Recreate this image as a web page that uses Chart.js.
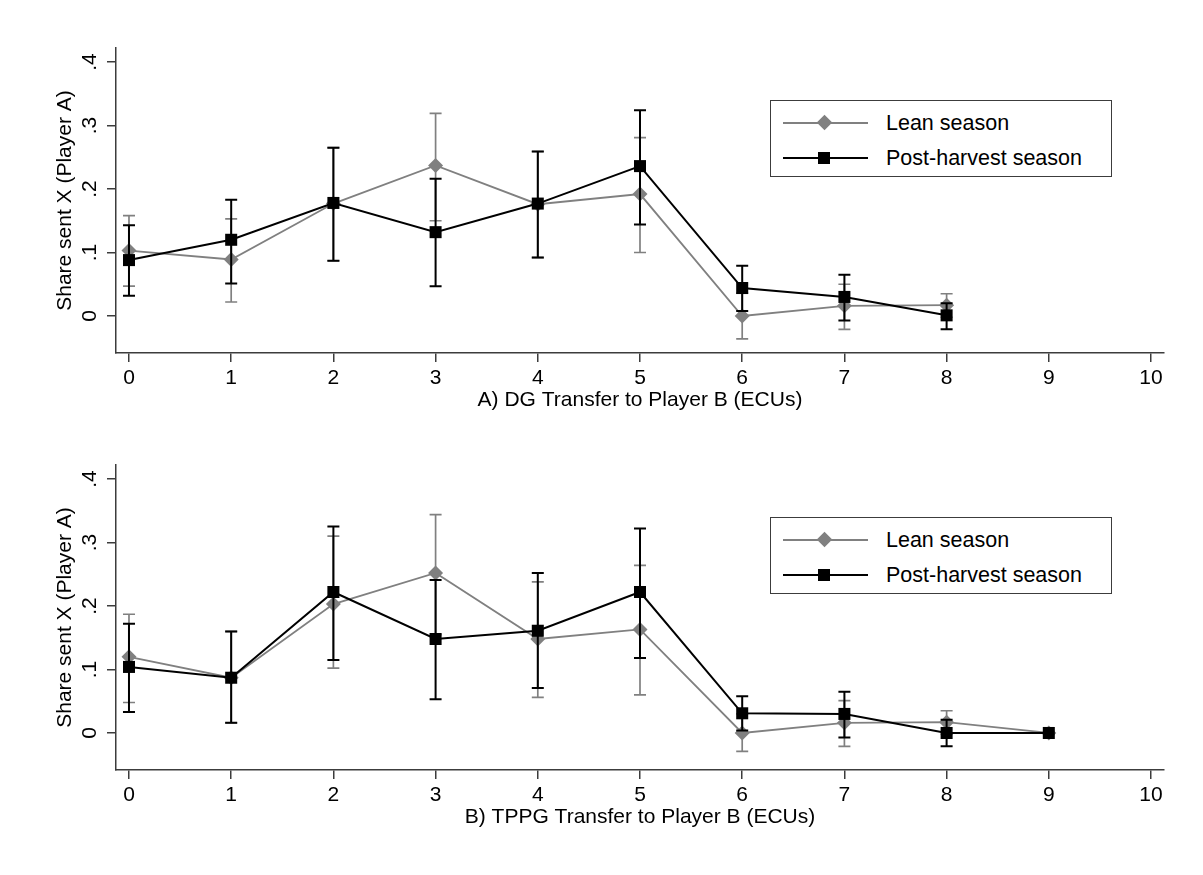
<!DOCTYPE html>
<html>
<head>
<meta charset="utf-8">
<script src="https://cdn.jsdelivr.net/npm/chart.js@4.4.1/dist/chart.umd.min.js"></script>
<style>
  body { margin: 0; background: #fff; font-family: 'Liberation Sans', Arial, sans-serif; }
  .panel { position: absolute; left: 0; }
  .legend { position: absolute; left: 770px; width: 342px; height: 77px; border: 1.5px solid #3c3c3c; box-sizing: border-box; background: #fff; }
  .row { position: absolute; left: 0; height: 30px; width: 100%; }
  .row .ln { position: absolute; left: 12px; width: 85px; top: 14px; height: 2px; }
  .row .mk { position: absolute; }
  .row .tx { position: absolute; left: 115px; top: 1px; font-size: 21.5px; line-height: 28px; color: #000; }
</style>
</head>
<body>
<canvas id="dg" class="panel" width="1203" height="417" style="top:0"></canvas>
<canvas id="tppg" class="panel" width="1203" height="417" style="top:417px"></canvas>

<div class="legend" style="top:100px">
  <div class="row" style="top:7px"><div class="ln" style="background:#808080"></div><div class="mk" style="left:48px;top:9px;width:11px;height:11px;background:#808080;transform:rotate(45deg)"></div><div class="tx">Lean season</div></div>
  <div class="row" style="top:42px"><div class="ln" style="background:#000"></div><div class="mk" style="left:47px;top:9px;width:12px;height:12px;background:#000"></div><div class="tx">Post-harvest season</div></div>
</div>
<div class="legend" style="top:517px">
  <div class="row" style="top:7px"><div class="ln" style="background:#808080"></div><div class="mk" style="left:48px;top:9px;width:11px;height:11px;background:#808080;transform:rotate(45deg)"></div><div class="tx">Lean season</div></div>
  <div class="row" style="top:42px"><div class="ln" style="background:#000"></div><div class="mk" style="left:47px;top:9px;width:12px;height:12px;background:#000"></div><div class="tx">Post-harvest season</div></div>
</div>

<script>
// x ticks and y ticks
const X_TICKS = [0, 1, 2, 3, 4, 5, 6, 7, 8, 9, 10];
const Y_TICKS = [0, 0.1, 0.2, 0.3, 0.4];
const Y_TICK_LABELS = ['0', '.1', '.2', '.3', '.4'];

// Panel A: DG
const DG_X = [0, 1, 2, 3, 4, 5, 6, 7, 8];
const DG_LEAN = [0.103, 0.089, 0.177, 0.237, 0.176, 0.192, 0.000, 0.016, 0.017];
const DG_LEAN_LO = [0.047, 0.022, 0.087, 0.150, 0.092, 0.100, -0.036, -0.021, -0.002];
const DG_LEAN_HI = [0.158, 0.153, 0.265, 0.319, 0.259, 0.281, 0.036, 0.050, 0.035];
const DG_POST = [0.088, 0.120, 0.178, 0.132, 0.177, 0.236, 0.044, 0.030, 0.001];
const DG_POST_LO = [0.032, 0.051, 0.087, 0.047, 0.092, 0.144, 0.008, -0.007, -0.021];
const DG_POST_HI = [0.143, 0.183, 0.265, 0.216, 0.259, 0.324, 0.079, 0.065, 0.020];

// Panel B: TPPG
const TP_X = [0, 1, 2, 3, 4, 5, 6, 7, 8, 9];
const TP_LEAN = [0.120, 0.087, 0.203, 0.252, 0.148, 0.163, 0.000, 0.016, 0.017, 0.000];
const TP_LEAN_LO = [0.048, 0.016, 0.102, 0.155, 0.056, 0.060, -0.029, -0.021, -0.002, 0.000];
const TP_LEAN_HI = [0.187, 0.160, 0.310, 0.344, 0.238, 0.264, 0.030, 0.051, 0.035, 0.000];
const TP_POST = [0.104, 0.087, 0.222, 0.148, 0.161, 0.222, 0.031, 0.030, 0.000, 0.000];
const TP_POST_LO = [0.033, 0.016, 0.115, 0.053, 0.071, 0.118, 0.004, -0.007, -0.021, 0.000];
const TP_POST_HI = [0.172, 0.160, 0.325, 0.241, 0.252, 0.322, 0.058, 0.065, 0.021, 0.000];

const FONT = "'Liberation Sans', Arial, sans-serif";
const AXIS_COLOR = '#3c3c3c';

// error bars, drawn just before each dataset's line
const errorBars = {
  id: 'errorBars',
  beforeDatasetDraw(chart, args) {
    const ds = chart.data.datasets[args.index];
    const xs = chart.scales.x, ys = chart.scales.y;
    const ctx = chart.ctx;
    ctx.save();
    ctx.strokeStyle = ds.borderColor;
    ctx.lineWidth = ds.errWidth;
    ds.data.forEach((p, i) => {
      const lo = ds.errLo[i], hi = ds.errHi[i];
      if (lo === hi) return;
      const x = xs.getPixelForValue(p.x);
      const y1 = ys.getPixelForValue(lo);
      const y2 = ys.getPixelForValue(hi);
      ctx.beginPath();
      ctx.moveTo(x, y1); ctx.lineTo(x, y2);
      ctx.moveTo(x - 6, y1); ctx.lineTo(x + 6, y1);
      ctx.moveTo(x - 6, y2); ctx.lineTo(x + 6, y2);
      ctx.stroke();
    });
    ctx.restore();
  }
};

// rotated y tick labels, like Stata
const yLabels = {
  id: 'yLabels',
  afterDraw(chart) {
    const ys = chart.scales.y;
    const ctx = chart.ctx;
    ctx.save();
    ctx.fillStyle = '#000';
    ctx.font = '21px ' + FONT;
    ctx.textAlign = 'center';
    ctx.textBaseline = 'middle';
    Y_TICKS.forEach((v, i) => {
      const y = ys.getPixelForValue(v);
      ctx.save();
      ctx.translate(90, y);
      ctx.rotate(-Math.PI / 2);
      ctx.fillText(Y_TICK_LABELS[i], 0, 0);
      ctx.restore();
    });
    ctx.restore();
  }
};

function pts(xs, ys) {
  return xs.map((x, i) => ({ x: x, y: ys[i] }));
}

function makeChart(id, xs, lean, leanLo, leanHi, post, postLo, postHi, title) {
  new Chart(document.getElementById(id), {
    type: 'line',
    data: {
      datasets: [
        {
          label: 'Post-harvest season',
          data: pts(xs, post),
          errLo: postLo, errHi: postHi, errWidth: 2,
          borderColor: '#000', borderWidth: 2,
          pointStyle: 'rect', pointRadius: 8.5, pointBorderWidth: 0,
          pointBackgroundColor: '#000',
          order: 0
        },
        {
          label: 'Lean season',
          data: pts(xs, lean),
          errLo: leanLo, errHi: leanHi, errWidth: 1.7,
          borderColor: '#808080', borderWidth: 1.8,
          pointStyle: 'rectRot', pointRadius: 7.5, pointBorderWidth: 0,
          pointBackgroundColor: '#808080',
          order: 1
        }
      ]
    },
    options: {
      responsive: false,
      animation: false,
      layout: { padding: { left: 0, top: 48, right: 39, bottom: 0 } },
      plugins: { legend: { display: false }, tooltip: { enabled: false } },
      scales: {
        x: {
          type: 'linear',
          min: -0.127,
          max: 10.127,
          afterBuildTicks: s => { s.ticks = X_TICKS.map(v => ({ value: v })); },
          afterFit: s => { s.height = 64; },
          ticks: {
            color: '#000', font: { family: FONT, size: 21 }, padding: 4,
            maxRotation: 0, autoSkip: false,
            callback: (v, i) => String(X_TICKS[i])
          },
          grid: { drawOnChartArea: false, drawTicks: true, tickLength: 9, color: AXIS_COLOR, lineWidth: 1.5 },
          border: { display: true, color: AXIS_COLOR, width: 1.5 },
          title: { display: true, text: title, color: '#000', font: { family: FONT, size: 21 }, padding: { top: 0, bottom: 4 } }
        },
        y: {
          type: 'linear',
          min: -0.0583,
          max: 0.422,
          afterBuildTicks: s => { s.ticks = Y_TICKS.map(v => ({ value: v })); },
          afterFit: s => { s.width = 116; },
          ticks: { display: false },
          grid: { drawOnChartArea: false, drawTicks: true, tickLength: 9, color: AXIS_COLOR, lineWidth: 1.5 },
          border: { display: true, color: AXIS_COLOR, width: 1.5 },
          title: { display: true, text: 'Share sent X (Player A)', color: '#000', font: { family: FONT, size: 21 }, padding: { top: 53, bottom: 0 } }
        }
      }
    },
    plugins: [errorBars, yLabels]
  });
}

makeChart('dg', DG_X, DG_LEAN, DG_LEAN_LO, DG_LEAN_HI, DG_POST, DG_POST_LO, DG_POST_HI, 'A) DG Transfer to Player B (ECUs)');
makeChart('tppg', TP_X, TP_LEAN, TP_LEAN_LO, TP_LEAN_HI, TP_POST, TP_POST_LO, TP_POST_HI, 'B) TPPG Transfer to Player B (ECUs)');
</script>
</body>
</html>
